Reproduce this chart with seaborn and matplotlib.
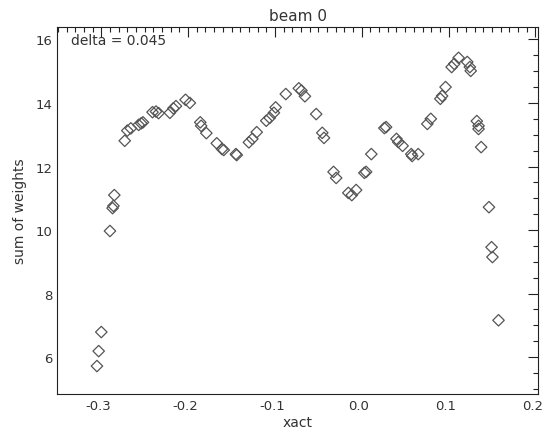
import numpy as np
import pandas as pd
import matplotlib
matplotlib.use('Agg')
import matplotlib.pyplot as plt
import matplotlib.transforms as mtransforms
import seaborn as sns
from matplotlib.ticker import MultipleLocator, FormatStrFormatter

# values
xact = [-0.305, -0.303, -0.300, -0.290, -0.287, -0.286, -0.285,
        -0.273, -0.270, -0.266, -0.257, -0.254, -0.252, -0.241, -0.237, -0.234,
        -0.221, -0.217, -0.214, -0.203, -0.198, -0.186, -0.185, -0.179,
        -0.167, -0.161, -0.159, -0.145, -0.144, -0.130, -0.126, -0.121,
        -0.110, -0.106, -0.1012, -0.0992, -0.0875, -0.0725, -0.0695, -0.0655,
        -0.0525, -0.0455, -0.0435, -0.0325, -0.0295, -0.0155, -0.0115, -0.0065,
        0.003, 0.005, 0.011, 0.026, 0.028, 0.040, 0.042, 0.047,
        0.057, 0.058, 0.065, 0.0755, 0.0795, 0.0905, 0.0925, 0.0965,
        0.1035, 0.1065, 0.1115, 0.1215, 0.1245, 0.1255, 0.1325, 0.1345, 0.1345,
        0.1375, 0.1465, 0.1495, 0.1505, 0.1575]
weights = [5.72, 6.19, 6.79, 9.97, 10.69, 10.76, 11.10,
           12.81, 13.13, 13.20, 13.31, 13.36, 13.39, 13.71, 13.73, 13.68,
           13.69, 13.83, 13.90, 14.10, 14.00, 13.39, 13.28, 13.05,
           12.73, 12.55, 12.52, 12.39, 12.36, 12.76, 12.87, 13.08,
           13.44, 13.53, 13.69, 13.86, 14.28, 14.46, 14.39, 14.21,
           13.65, 13.06, 12.90, 11.83, 11.64, 11.17, 11.10, 11.26,
           11.80, 11.83, 12.39, 13.21, 13.24, 12.87, 12.77, 12.65,
           12.39, 12.33, 12.39, 13.34, 13.50, 14.13, 14.22, 14.50,
           15.13, 15.23, 15.42, 15.29, 15.13, 15.01, 13.43, 13.28, 13.18,
           12.61, 10.72, 9.46, 9.15, 7.16]

df = pd.DataFrame({'xact': xact, 'sum of weights': weights})

sns.set_style('white')
plt.rcParams['font.family'] = ['DejaVu Sans']

fig = plt.figure(figsize=(5.45, 4.39), dpi=100)
ax = fig.add_axes([0.1046, 0.1002, 0.8826, 0.836])

sns.scatterplot(data=df, x='xact', y='sum of weights', ax=ax, marker='D', s=34,
                facecolor='none', edgecolor='#555555', linewidth=0.9)

ax.set_xlim(-0.351, 0.203)
ax.set_ylim(4.84, 16.39)
ax.xaxis.set_major_locator(MultipleLocator(0.1))
ax.xaxis.set_minor_locator(MultipleLocator(0.01))
ax.yaxis.set_major_locator(MultipleLocator(2))
ax.yaxis.set_minor_locator(MultipleLocator(0.5))
ax.xaxis.set_major_formatter(FormatStrFormatter('%.1f'))
ax.yaxis.set_major_formatter(FormatStrFormatter('%d'))
ax.tick_params(which='both', direction='in', top=True, right=True, colors='#222222',
               labelcolor='#333333', labelsize=9.5)
ax.tick_params(which='major', length=7, width=0.8)
ax.tick_params(which='minor', length=3.5, width=0.8)
for sp in ax.spines.values():
    sp.set_color('#222222')
    sp.set_linewidth(0.8)

ax.set_title('beam 0', fontsize=11, color='#333333', pad=5)
ax.set_xlabel('xact', fontsize=10, color='#333333', labelpad=2)
ax.set_ylabel('sum of weights', fontsize=10, color='#333333', labelpad=6)
ax.text(0.03, 0.985, 'delta = 0.045', transform=ax.transAxes, ha='left', va='top',
        fontsize=10, color='#333333')

# x tick labels sit a little left of their ticks, as in the reference
fig.canvas.draw()
shift = mtransforms.ScaledTranslation(-3 / 100, 0, fig.dpi_scale_trans)
for lab in ax.get_xticklabels():
    lab.set_transform(lab.get_transform() + shift)

fig.savefig('out.png', dpi=100)
